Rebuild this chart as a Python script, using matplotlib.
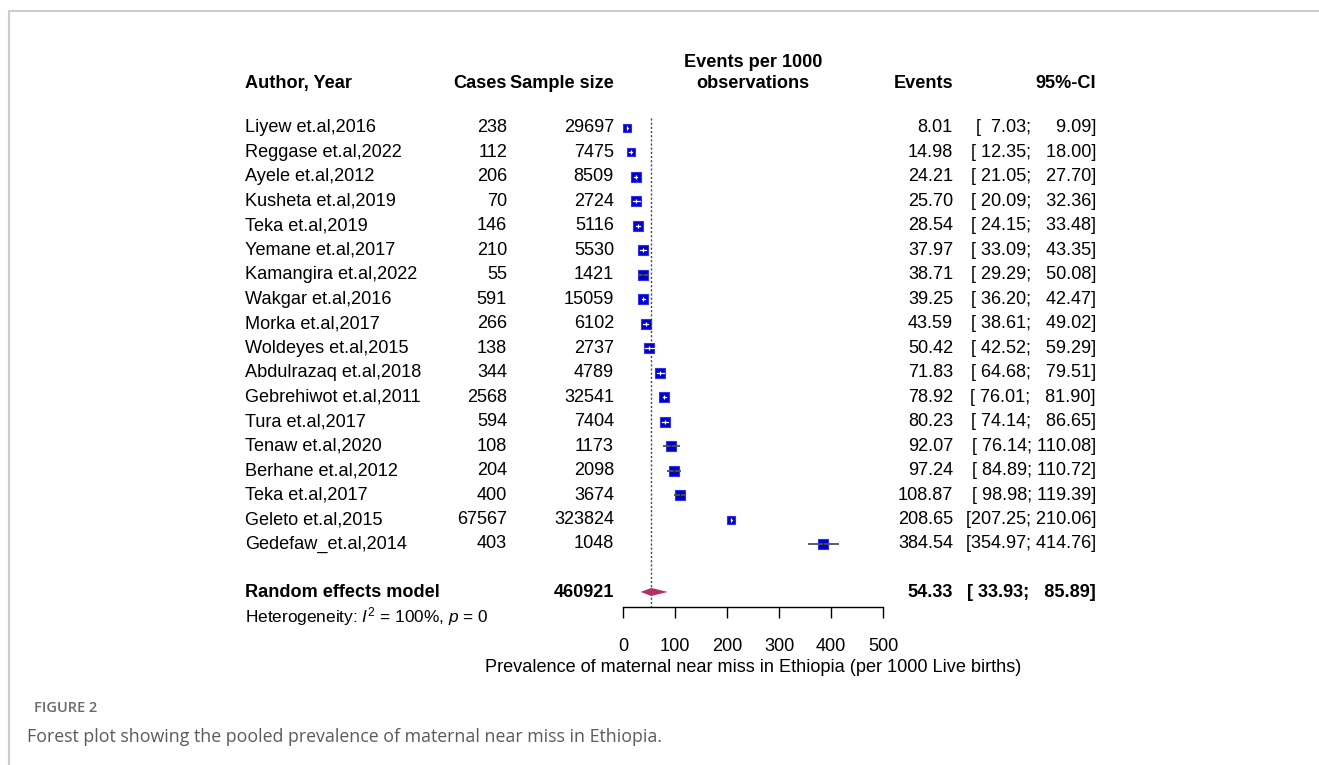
import numpy as np
import matplotlib.pyplot as plt
from matplotlib.lines import Line2D

plt.rcParams['font.family'] = ['Liberation Sans', 'DejaVu Sans']
plt.rcParams['mathtext.fontset'] = 'custom'
plt.rcParams['mathtext.rm'] = 'Liberation Sans'
plt.rcParams['mathtext.it'] = 'Liberation Sans:italic'

# study data
authors = ["Liyew et.al,2016", "Reggase et.al,2022", "Ayele et.al,2012", "Kusheta et.al,2019",
           "Teka et.al,2019", "Yemane et.al,2017", "Kamangira et.al,2022", "Wakgar et.al,2016",
           "Morka et.al,2017", "Woldeyes et.al,2015", "Abdulrazaq et.al,2018", "Gebrehiwot et.al,2011",
           "Tura et.al,2017", "Tenaw et.al,2020", "Berhane et.al,2012", "Teka et.al,2017",
           "Geleto et.al,2015", "Gedefaw_et.al,2014"]
cases = [238, 112, 206, 70, 146, 210, 55, 591, 266, 138, 344, 2568, 594, 108, 204, 400, 67567, 403]
sample = [29697, 7475, 8509, 2724, 5116, 5530, 1421, 15059, 6102, 2737, 4789, 32541, 7404, 1173,
          2098, 3674, 323824, 1048]
events = [8.01, 14.98, 24.21, 25.70, 28.54, 37.97, 38.71, 39.25, 43.59, 50.42, 71.83, 78.92,
          80.23, 92.07, 97.24, 108.87, 208.65, 384.54]
lower = [7.03, 12.35, 21.05, 20.09, 24.15, 33.09, 29.29, 36.20, 38.61, 42.52, 64.68, 76.01,
         74.14, 76.14, 84.89, 98.98, 207.25, 354.97]
upper = [9.09, 18.00, 27.70, 32.36, 33.48, 43.35, 50.08, 42.47, 49.02, 59.29, 79.51, 81.90,
         86.65, 110.08, 110.72, 119.39, 210.06, 414.76]
weights = [4.6, 4.8, 5.1, 5.2, 5.1, 5.2, 5.7, 5.2, 5.3, 5.5, 5.3, 5.2, 5.3, 5.6, 5.6, 5.7, 4.6, 5.7]

pooled, pooled_lo, pooled_hi = 54.33, 33.93, 85.89
total_n = 460921
xticks = [0, 100, 200, 300, 400, 500]

W, H = 1319, 765
fig = plt.figure(figsize=(W / 100, H / 100), dpi=100)

# layout in pixels
y0, dy = 128, 24.47          # first row, row spacing
x0, sc = 623, 0.52           # x pixel of 0, pixels per unit
ybot, ytop = 607, 40
ax = fig.add_axes([0, 1 - ybot / H, 1, (ybot - ytop) / H])
ax.set_xlim(-x0 / sc, (W - x0) / sc)
ax.set_ylim((ybot - y0) / dy, (ytop - y0) / dy)

def row(px):
    return (px - y0) / dy

fs = 13.1
tr = ax.get_yaxis_transform()
c_auth, c_cases, c_n, c_ev, c_ci, c_mid = 245 / W, 507 / W, 614 / W, 953 / W, 1096 / W, 753 / W

# headers
hd = dict(transform=tr, fontsize=fs, fontweight='bold', va='center')
ax.text(c_auth, row(84), "Author, Year", ha='left', **hd)
ax.text(c_cases, row(84), "Cases", ha='right', **hd)
ax.text(c_n, row(84), "Sample size", ha='right', **hd)
ax.text(c_mid, row(73), "Events per 1000\nobservations", ha='center', linespacing=1.35, **hd)
ax.text(c_ev, row(84), "Events", ha='right', **hd)
ax.text(c_ci, row(84), "95%-CI", ha='right', **hd)


def fmt_ci(lo, hi):
    a, b = f"{lo:.2f}", f"{hi:.2f}"
    return "[" + " " * (6 - len(a)) + a + "; " + "  " * (6 - len(b)) + b + "]"


tx = dict(transform=tr, fontsize=fs, va='center')
wmax = max(weights)
for i in range(len(authors)):
    ax.text(c_auth, i, authors[i], ha='left', **tx)
    ax.text(c_cases, i, str(cases[i]), ha='right', **tx)
    ax.text(c_n, i, str(sample[i]), ha='right', **tx)
    ax.text(c_ev, i, f"{events[i]:.2f}", ha='right', **tx)
    ax.text(c_ci, i, fmt_ci(lower[i], upper[i]), ha='right', **tx)

    side = 10.5 * weights[i] / wmax  # px
    ax.plot(events[i], i, marker='s', ms=side * 0.72, mfc='#0000c8', mec='#3030f0', mew=0.8, zorder=3)
    half = side / 2 / sc
    if events[i] - lower[i] > half or upper[i] - events[i] > half:
        ax.plot([lower[i], upper[i]], [i, i], color='#505050', lw=1.3, zorder=4, solid_capstyle='butt')
        ax.plot(events[i], i, marker='|', ms=3, color='#202020', mew=1, zorder=4)
    else:
        ax.plot([lower[i], upper[i]], [i, i], color='white', lw=0.9, zorder=4)
        ax.plot(events[i], i, marker='|', ms=3.5, color='white', mew=0.9, zorder=4)

# pooled estimate
nr = len(authors) + 1
ax.text(c_auth, nr, "Random effects model", ha='left', fontweight='bold', **tx)
ax.text(c_n, nr, str(total_n), ha='right', fontweight='bold', **tx)
ax.text(c_ev, nr, f"{pooled:.2f}", ha='right', fontweight='bold', **tx)
ax.text(c_ci, nr, fmt_ci(pooled_lo, pooled_hi), ha='right', fontweight='bold', **tx)
ax.text(c_auth, row(617), r"Heterogeneity: $\mathit{I}^2$ = 100%, $\mathit{p}$ = 0",
        transform=tr, fontsize=12.4, va='center', ha='left')
hh = 4 / dy
ax.fill([pooled_lo, pooled, pooled_hi, pooled], [nr - 0.04, nr - 0.04 - hh, nr - 0.04, nr - 0.04 + hh],
        color='#b3306a', lw=0, zorder=3)
ax.plot([pooled, pooled], [row(118), row(ybot)], ls=(0, (1.5, 1.5)), color='#444444', lw=1, zorder=1)

# axis
for s in ['top', 'left', 'right']:
    ax.spines[s].set_visible(False)
ax.spines['bottom'].set_bounds(xticks[0], xticks[-1])
ax.spines['bottom'].set_linewidth(1)
ax.set_yticks([])
ax.set_xticks(xticks)
ax.tick_params(axis='x', direction='out', length=8, width=1, pad=14, labelsize=fs)
fig.text(c_mid, 1 - 668 / H, "Prevalence of maternal near miss in Ethiopia (per 1000 Live births)",
         ha='center', va='center', fontsize=fs)

# page frame and caption
fig.add_artist(Line2D([9 / W, 9 / W, 1], [0, 1 - 11 / H, 1 - 11 / H], color='#cccccc', lw=1.5))
fig.text(34 / W, 1 - 708 / H, "FIGURE 2", fontsize=10.5, fontweight='semibold', color='#6a6a6a',
         family='Open Sans', va='center', ha='left')
fig.text(27 / W, 1 - 737 / H, "Forest plot showing the pooled prevalence of maternal near miss in Ethiopia.",
         fontsize=12.8, color='#5a5a5a', family='Open Sans', va='center', ha='left')

fig.savefig("out.png", dpi=100)
